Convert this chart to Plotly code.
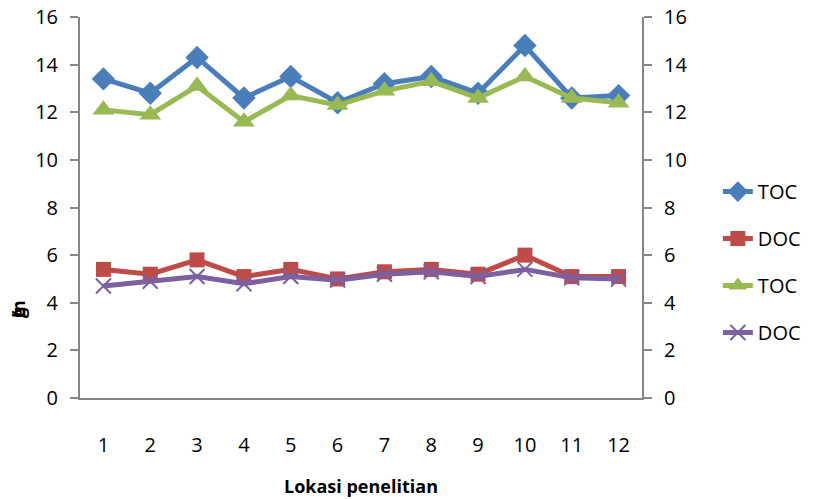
import plotly.graph_objects as go

# Sampling locations
lokasi = [str(i) for i in range(1, 13)]

# Series values (mg/L)
toc_1 = [13.4, 12.8, 14.3, 12.6, 13.5, 12.4, 13.2, 13.5, 12.8, 14.8, 12.6, 12.7]
doc_1 = [5.4, 5.2, 5.8, 5.1, 5.4, 5.0, 5.3, 5.4, 5.2, 6.0, 5.1, 5.1]
toc_2 = [12.1, 11.9, 13.1, 11.6, 12.7, 12.3, 12.9, 13.3, 12.6, 13.5, 12.6, 12.4]
doc_2 = [4.7, 4.9, 5.1, 4.8, 5.1, 4.95, 5.2, 5.3, 5.1, 5.4, 5.05, 5.0]

y_ticks = list(range(0, 17, 2))

BLUE = "#4A7EBB"
RED = "#BE4B48"
GREEN = "#98B954"
PURPLE = "#7D60A0"
AXIS = "#868686"
FONT = "Open Sans"

fig = go.Figure()

fig.add_trace(go.Scatter(
    x=lokasi, y=toc_1, name="TOC", mode="lines+markers", legendgroup="a",
    line=dict(color=BLUE, width=5),
    marker=dict(symbol="diamond", size=18, color=BLUE),
))
fig.add_trace(go.Scatter(
    x=lokasi, y=doc_1, name="DOC", mode="lines+markers", legendgroup="b",
    line=dict(color=RED, width=5),
    marker=dict(symbol="square", size=15, color=RED),
))
fig.add_trace(go.Scatter(
    x=lokasi, y=toc_2, name="TOC", mode="lines+markers", legendgroup="c",
    yaxis="y2",
    line=dict(color=GREEN, width=5),
    marker=dict(symbol="triangle-up", size=19, color=GREEN),
))
fig.add_trace(go.Scatter(
    x=lokasi, y=doc_2, name="DOC", mode="lines+markers", legendgroup="d",
    yaxis="y2",
    line=dict(color=PURPLE, width=5),
    marker=dict(symbol="x-thin", size=15, color=PURPLE,
                line=dict(color=PURPLE, width=2)),
))

axis_common = dict(
    range=[0, 16], tickvals=y_ticks, ticks="outside", ticklen=8,
    tickcolor=AXIS, tickwidth=2, showline=True, linecolor=AXIS, linewidth=2,
    showgrid=False, zeroline=False, automargin=False,
    tickfont=dict(family=FONT, size=20, color="#000"),
    ticklabelstandoff=8,
)

fig.update_layout(
    width=832, height=499,
    margin=dict(l=80, r=190, t=17, b=101),
    paper_bgcolor="white", plot_bgcolor="white",
    font=dict(family=FONT, color="#000"),
    xaxis=dict(
        type="category", range=[-0.5, 11.5], showline=True, linecolor=AXIS,
        linewidth=2, ticks="", showgrid=False, zeroline=False,
        automargin=False,
        tickfont=dict(family=FONT, size=20, color="#000"),
        ticklabelstandoff=28,
        title=dict(text="<b>Lokasi penelitian</b>", standoff=23,
                   font=dict(family=FONT, size=18, color="#000")),
    ),
    yaxis=dict(side="left", **axis_common),
    yaxis2=dict(side="right", overlaying="y", **axis_common),
    legend=dict(
        x=1.135, xanchor="left", y=0.593, yanchor="top",
        traceorder="grouped", tracegroupgap=18,
        font=dict(family=FONT, size=20, color="#000"),
        bgcolor="rgba(0,0,0,0)",
    ),
)

# Overlapping axis-unit glyphs at the left edge
for ch in ["m", "g", "/", "L"]:
    fig.add_annotation(
        text="<b>" + ch + "</b>", xref="paper", yref="paper",
        x=-0.135, y=0.205, showarrow=False, textangle=-90,
        font=dict(family=FONT, size=18, color="#000"),
    )

fig.write_html("out.html")
